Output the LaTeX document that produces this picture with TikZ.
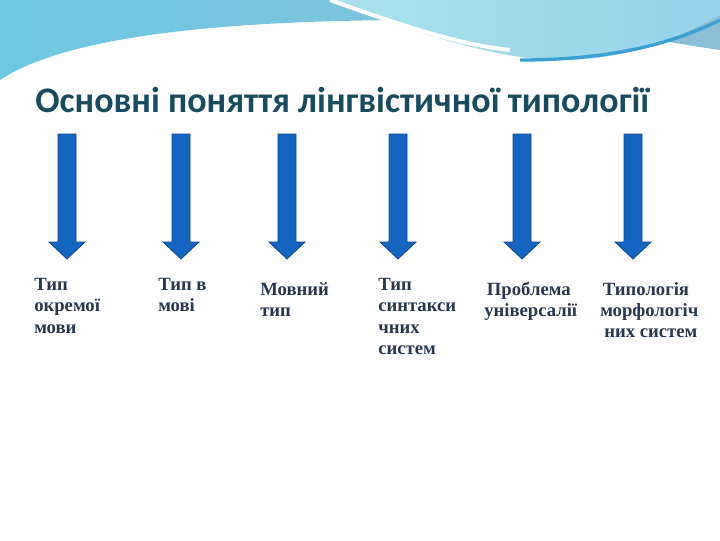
\documentclass[tikz,border=0pt]{standalone}
\usepackage{fontspec}
\setmainfont{Liberation Serif}
\newfontfamily\titlefont{Carlito}
\definecolor{wavedark}{RGB}{60,160,210}
\begin{document}
\begin{tikzpicture}[x=0.75pt,y=-0.75pt,
  arr/.style={fill={rgb,255:red,21;green,101;blue,192},draw={rgb,255:red,15;green,70;blue,140},line width=0.6pt},
  lbl/.style={anchor=north west,align=left,font=\fontsize{14}{16}\selectfont\bfseries,text={rgb,255:red,40;green,55;blue,80},inner sep=0pt}]
\useasboundingbox (0,0) rectangle (720,540);
\fill[white] (0,0) rectangle (720,540);
% top waves
\shade[left color={rgb,255:red,110;green,200;blue,225},right color={rgb,255:red,140;green,190;blue,215}]
 (0,0) -- (0,80) .. controls (60,40) and (200,20) .. (420,20) .. controls (560,20) and (650,40) .. (720,50) -- (720,0) -- cycle;
\shade[left color={rgb,255:red,170;green,225;blue,235},right color={rgb,255:red,150;green,210;blue,235}]
 (330,0) .. controls (420,35) and (500,60) .. (560,60) .. controls (640,60) and (690,30) .. (720,15) -- (720,0) -- cycle;
\draw[white,line width=3pt] (330,0) .. controls (400,25) and (460,45) .. (510,50);
\draw[wavedark,line width=2.5pt] (520,60) .. controls (620,60) and (680,40) .. (720,20);
\node[anchor=west,inner sep=0pt,font=\titlefont\fontsize{27}{29}\selectfont\bfseries,text={rgb,255:red,25;green,75;blue,95}] (title) at (35,100) {Основні поняття лінгвістичної типології};
\foreach \n/\x in {a/67,b/181,c/287,d/398,e/522,f/633}{
  \path[arr] (\x-9,134) -- (\x+9,134) -- (\x+9,242) -- (\x+18,242) -- (\x,259) -- (\x-18,242) -- (\x-9,242) -- cycle;
  \coordinate (\n) at (\x,259);
}
\node[lbl] (t1) at (34,278) {Тип\\окремої\\мови};
\node[lbl] (t2) at (158,278) {Тип в\\мові};
\node[lbl] (t3) at (260,282) {Мовний\\тип};
\node[lbl] (t4) at (378,278) {Тип\\синтакси\\чних\\систем};
\node[lbl] (t5) at (484,282) {\hspace*{2pt}Проблема\\універсалії};
\node[lbl] (t6) at (600,282) {\hspace*{2pt}Типологія\\морфологіч\\\hspace*{3pt}них систем};
\end{tikzpicture}
\end{document}
